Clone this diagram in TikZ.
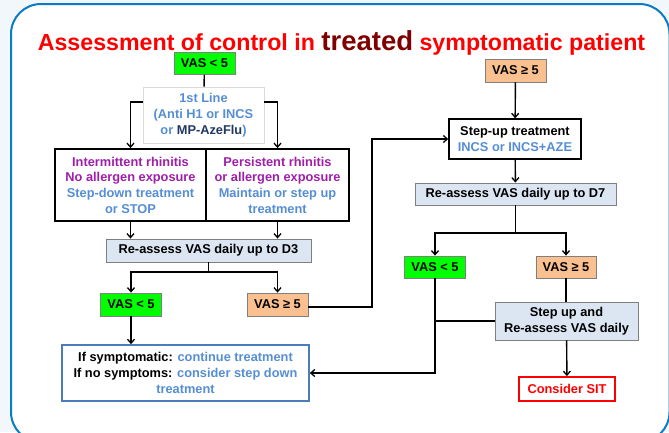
\documentclass[tikz,border=0pt]{standalone}
\usepackage{fontspec}
\setmainfont{Liberation Sans}
\usetikzlibrary{arrows.meta}
\definecolor{bgout}{HTML}{F2F7FC}
\definecolor{frameblue}{HTML}{0B7BC6}
\definecolor{vgreen}{HTML}{00FF00}
\definecolor{vorange}{HTML}{FAC090}
\definecolor{lblue}{HTML}{DCE6F2}
\definecolor{txtblue}{HTML}{558ED5}
\definecolor{purp}{HTML}{A01EAA}
\definecolor{navy}{HTML}{1F3864}
\definecolor{dred}{HTML}{800000}
\definecolor{bred}{HTML}{FF0000}
\definecolor{boxgray}{HTML}{7F7F7F}
\definecolor{lgray}{HTML}{D9D9D9}
\definecolor{botblue}{HTML}{4A7EBB}
\begin{document}
\begin{tikzpicture}[x=1pt,y=-1pt,
  every node/.style={font=\fontsize{12.8}{15.7}\selectfont\bfseries, inner sep=0pt, align=center},
  vasg/.style={draw=boxgray, line width=0.8pt, fill=vgreen, minimum width=61pt, minimum height=22pt},
  vaso/.style={draw=boxgray, line width=0.8pt, fill=vorange, minimum width=61pt, minimum height=22pt},
  reass/.style={draw=boxgray, line width=0.9pt, fill=lblue},
  bigbox/.style={draw=black, line width=1.8pt, fill=white, minimum height=72pt},
  conn/.style={draw=black, line width=1.4pt},
  arr/.style={conn, -{Straight Barb[length=4pt,width=7pt,line width=1.3pt]}}
]
\useasboundingbox (0,0) rectangle (669,432);
\fill[bgout] (0,0) rectangle (669,432);
\draw[frameblue, line width=2pt, fill=white, rounded corners=30pt] (11,4) rectangle (669.5,442);

\node[anchor=base] (title) at (341.5,50) {\fontsize{23.2}{27}\selectfont\color{bred}Assessment of control in {\fontsize{27.5}{27}\selectfont\color{dred}treated} symptomatic patient};

\node[vasg] (vasA) at (204.5,63.5) {VAS < 5};
\node[draw=lgray, line width=0.8pt, fill=white, minimum width=121pt, minimum height=56pt, text=txtblue] (first) at (203.5,115)
  {1st Line\\(Anti H1 or INCS\\or {\color{navy}MP-AzeFlu})};
\node[bigbox, minimum width=151pt] (leftbig) at (130.5,185)
  {{\color{purp}Intermittent rhinitis}\\{\color{purp}No allergen exposure}\\{\color{txtblue}Step-down treatment}\\{\color{txtblue}or STOP}};
\node[bigbox, minimum width=143pt] (rightbig) at (277.5,185)
  {{\color{purp}Persistent rhinitis}\\{\color{purp}or allergen exposure}\\{\color{txtblue}Maintain or step up}\\{\color{txtblue}treatment}};
\node[reass, minimum width=205pt, minimum height=23pt] (d3) at (208.5,250.5) {Re-assess VAS daily up to D3};
\node[vasg, minimum height=23pt] (vasB) at (131,304.5) {VAS < 5};
\node[vaso, minimum height=23pt] (vasC) at (277.5,304.5) {VAS ≥ 5};
\node[draw=botblue, line width=1.6pt, fill=white, minimum width=247pt, minimum height=56pt] (bottom) at (185.5,373)
  {If symptomatic: {\color{txtblue}continue treatment}\\If no symptoms: {\color{txtblue}consider step down}\\{\color{txtblue}treatment}};

\node[vaso, minimum height=23pt] (vasD) at (515.5,70.5) {VAS ≥ 5};
\node[draw=black, line width=1.4pt, fill=white, minimum width=132pt, minimum height=40pt] (stepup) at (515,139)
  {Step-up treatment\\{\color{txtblue}INCS or INCS+AZE}};
\node[reass, minimum width=201pt, minimum height=22pt] (d7) at (515.5,194) {Re-assess VAS daily up to D7};
\node[vasg] (vasE) at (435,267) {VAS < 5};
\node[vaso, minimum width=60pt] (vasF) at (566,267) {VAS ≥ 5};
\node[reass, minimum width=143pt, minimum height=38pt] (stepre) at (566.5,321) {Step up and\\Re-assess VAS daily};
\node[draw=bred, line width=1.8pt, fill=white, text=bred, minimum width=96pt, minimum height=24pt] (sit) at (567,389) {Consider SIT};

\coordinate (d3split) at (208.5,272);
\coordinate (upturn) at (372,307);
\coordinate (d7split) at (515.5,233);

\draw[conn] (vasA) -- (first);
\draw[arr] ([yshift=13pt]first.west) -| (leftbig.north);
\draw[arr] ([yshift=13pt]first.east) -| (rightbig.north);
\draw[arr] (leftbig.south) -- (leftbig.south |- d3.north);
\draw[arr] (rightbig.south) -- (rightbig.south |- d3.north);
\draw[conn] (d3.south) -- (d3split);
\draw[arr] (d3split) -| (vasB.north);
\draw[arr] (d3split) -| (vasC.north);
\draw[arr] (vasC.east |- upturn) -- (upturn) |- (stepup.west);
\draw[arr] (vasB.south) -- (vasB.south |- bottom.north);

\draw[arr] (vasD) -- (stepup);
\draw[arr] (stepup) -- (d7);
\draw[conn] (d7.south) -- (d7split);
\draw[arr] (d7split) -| (vasE.north);
\draw[arr] (d7split) -| (vasF.north);
\draw[conn] (vasF.south) -- (vasF.south |- stepre.north);
\draw[conn] (stepre.west) -- (stepre.west -| vasE.south);
\draw[arr] (vasE.south) |- (bottom.east);
\draw[arr] (stepre) -- (sit);
\end{tikzpicture}
\end{document}
